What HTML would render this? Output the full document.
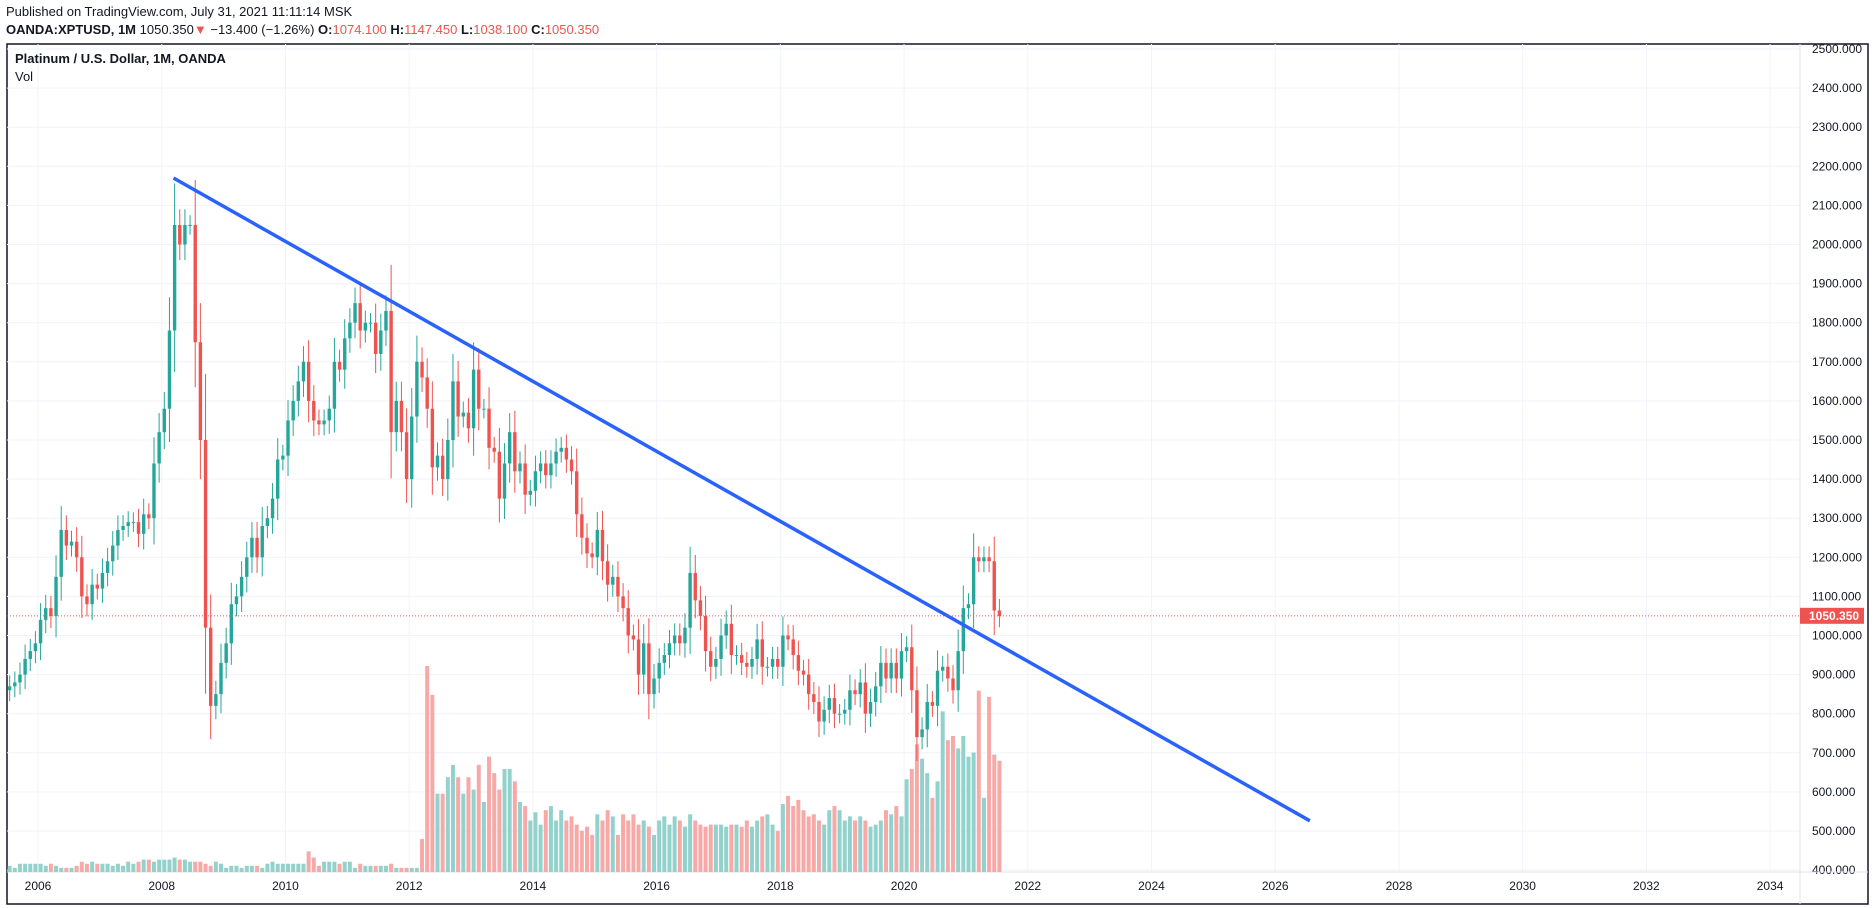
<!DOCTYPE html>
<html><head><meta charset="utf-8">
<style>
body{margin:0;background:#fff;width:1876px;height:908px;overflow:hidden;font-family:"Liberation Sans",sans-serif;}
#hdr1{position:absolute;left:6px;top:4px;font-size:13px;color:#131722;}
#hdr2{position:absolute;left:6px;top:22px;font-size:13px;color:#131722;}
#hdr2 b{font-weight:bold}
.r{color:#ef5350}
svg{position:absolute;left:0;top:0}
</style></head>
<body>
<div id="hdr1">Published on TradingView.com, July 31, 2021 11:11:14 MSK</div>
<div id="hdr2"><b>OANDA:XPTUSD, 1M</b> 1050.350<span class="r">▼</span> −13.400 (−1.26%) <b>O:</b><span class="r">1074.100</span> <b>H:</b><span class="r">1147.450</span> <b>L:</b><span class="r">1038.100</span> <b>C:</b><span class="r">1050.350</span></div>
<svg id="chart" width="1876" height="908"></svg>
<script>
const startYear = 2005.5;
const closes = [
870,880,900,940,960,980,
1040,1070,1050,1150,1270,1230,1240,1200,1100,1080,1130,1120,
1160,1190,1230,1270,1280,1290,1290,1260,1310,1300,1440,1520,
1580,1780,2050,2000,2050,2050,1750,1500,1020,820,850,930,
980,1080,1100,1150,1200,1250,1200,1280,1300,1350,1450,1460,
1550,1600,1650,1700,1600,1550,1540,1550,1580,1700,1680,1760,
1800,1850,1780,1800,1800,1720,1780,1830,1520,1600,1520,1400,
1560,1700,1660,1580,1430,1460,1400,1500,1650,1560,1570,1530,
1680,1580,1580,1480,1470,1350,1440,1520,1420,1440,1360,1370,
1420,1440,1410,1440,1470,1480,1450,1420,1310,1250,1210,1200,
1270,1190,1130,1150,1100,1070,1000,990,900,980,850,890,
930,950,980,1000,980,1020,1160,1090,1050,960,920,940,
1000,1030,950,950,930,920,940,990,920,920,940,920,
1000,990,950,910,900,850,830,780,810,840,800,800,
810,860,850,880,800,830,870,930,890,930,890,960,
970,860,740,760,830,820,910,920,890,860,960,1070,
1080,1200,1190,1200,1190,1064,1050
];
const volumes = [
3,2,4,4,4,4,
4,3,4,3,2,2,2,3,5,4,5,4,
4,4,3,4,3,5,4,5,6,6,5,6,
6,6,7,6,6,5,5,5,4,3,5,4,
2,3,3,2,3,3,3,2,4,5,4,4,
4,4,4,4,10,7,3,5,5,5,4,5,
5,2,4,3,3,3,3,3,4,2,2,2,
2,2,16,100,86,38,38,46,52,46,38,46,
40,52,34,56,48,40,50,50,44,34,32,25,
29,23,30,32,25,30,25,27,23,20,22,18,
28,25,30,27,18,28,25,28,23,25,22,18,
25,27,23,27,25,22,28,25,23,22,23,23,
23,22,23,23,22,25,22,25,27,28,23,20,
33,37,32,35,30,27,28,25,23,30,32,30,
25,27,25,27,25,22,23,25,30,28,32,27,
45,50,62,55,48,36,44,78,64,66,60,66,
56,58,88,36,85,57,54
];
const priceTicks = [400,500,600,700,800,900,1000,1100,1200,1300,1400,1500,1600,1700,1800,1900,2000,2100,2200,2300,2400,2500];
const yearTicks = [2006,2008,2010,2012,2014,2016,2018,2020,2022,2024,2026,2028,2030,2032,2034];
const trendStart = [2008.19, 2170];
const trendEnd = [2026.56, 526];
const lastPrice = 1050.35;

const NS="http://www.w3.org/2000/svg";
const svg=document.getElementById('chart');
const X=t=>38+(t-2006)*61.86;
const Y=p=>49+(2500-p)*0.391;
const VB=872, VH=v=>v/100*206;
function mk(tag,attrs,parent){const e=document.createElementNS(NS,tag);for(const k in attrs)e.setAttribute(k,attrs[k]);(parent||svg).appendChild(e);return e;}

const frame=mk('rect',{x:7,y:44,width:1861,height:860,fill:'none',stroke:'#131722','stroke-width':1.5});


priceTicks.forEach(p=>{
  const l=mk('line',{x1:7,x2:1800,y1:Y(p),y2:Y(p),stroke:'#f0f3fa'});
  
  
  const t=mk('text',{x:1812,y:Y(p)+4,'font-size':12,fill:'#131722','font-family':'Liberation Sans, sans-serif'});
  t.textContent=p.toFixed(3);
  
  
});
yearTicks.forEach(yr=>{
  const l=mk('line',{x1:X(yr),x2:X(yr),y1:44,y2:872,stroke:'#f0f3fa'});
  
  
  const t=mk('text',{x:X(yr),y:890,'font-size':12,fill:'#131722','text-anchor':'middle','font-family':'Liberation Sans, sans-serif'});
  t.textContent=yr;
  
  
});
const ax=mk('line',{x1:1800,x2:1800,y1:44,y2:904,stroke:'#e0e3eb'});


const bx=mk('line',{x1:7,x2:1868,y1:872,y2:872,stroke:'#e0e3eb'});



const lg=mk('text',{x:15,y:63,'font-size':13,'font-weight':'bold',fill:'#131722','font-family':'Liberation Sans, sans-serif'});
lg.textContent='Platinum / U.S. Dollar, 1M, OANDA';


const lv=mk('text',{x:15,y:81,'font-size':13,fill:'#131722','font-family':'Liberation Sans, sans-serif'});
lv.textContent='Vol';



const step=61.86/12;
closes.forEach((c,i)=>{
  const o=i===0?c-10:closes[i-1];
  const up=c>=o;
  const x=X(startYear+i/12)+step/2;
  const v=volumes[i];
  const vb=mk('rect',{x:x-2,y:VB-VH(v),width:4,height:VH(v),fill:up?'#93d2cc':'#f7a9a7'});
  
  
});
closes.forEach((c,i)=>{
  const o=i===0?c-10:closes[i-1];
  const up=c>=o;
  const col=up?'#26a69a':'#ef5350';
  const x=X(startYear+i/12)+step/2;
  const hi=Math.max(o,c)+Math.abs(c-o)*0.3+25, lo=Math.min(o,c)-Math.abs(c-o)*0.3-25;
  const w=mk('line',{x1:x,x2:x,y1:Y(hi),y2:Y(lo),stroke:col,'stroke-width':1});
  
  
  const b=mk('rect',{x:x-1.7,y:Y(Math.max(o,c)),width:3.4,height:Math.max(1,Math.abs(Y(o)-Y(c))),fill:col});
  
  
});

const tl=mk('line',{x1:X(trendStart[0]),y1:Y(trendStart[1]),x2:X(trendEnd[0]),y2:Y(trendEnd[1]),stroke:'#2962ff','stroke-width':3.5});



const pl=mk('line',{x1:7,x2:1800,y1:Y(lastPrice),y2:Y(lastPrice),stroke:'#ef5350','stroke-width':1,'stroke-dasharray':'1,2'});


const pb=mk('rect',{x:1800,y:Y(lastPrice)-8,width:64,height:16,fill:'#ef5350'});


const pt=mk('text',{x:1809,y:Y(lastPrice)+4,'font-size':12,'font-weight':'bold',fill:'#fff','font-family':'Liberation Sans, sans-serif'});
pt.textContent=lastPrice.toFixed(3);


</script>
</body></html>
